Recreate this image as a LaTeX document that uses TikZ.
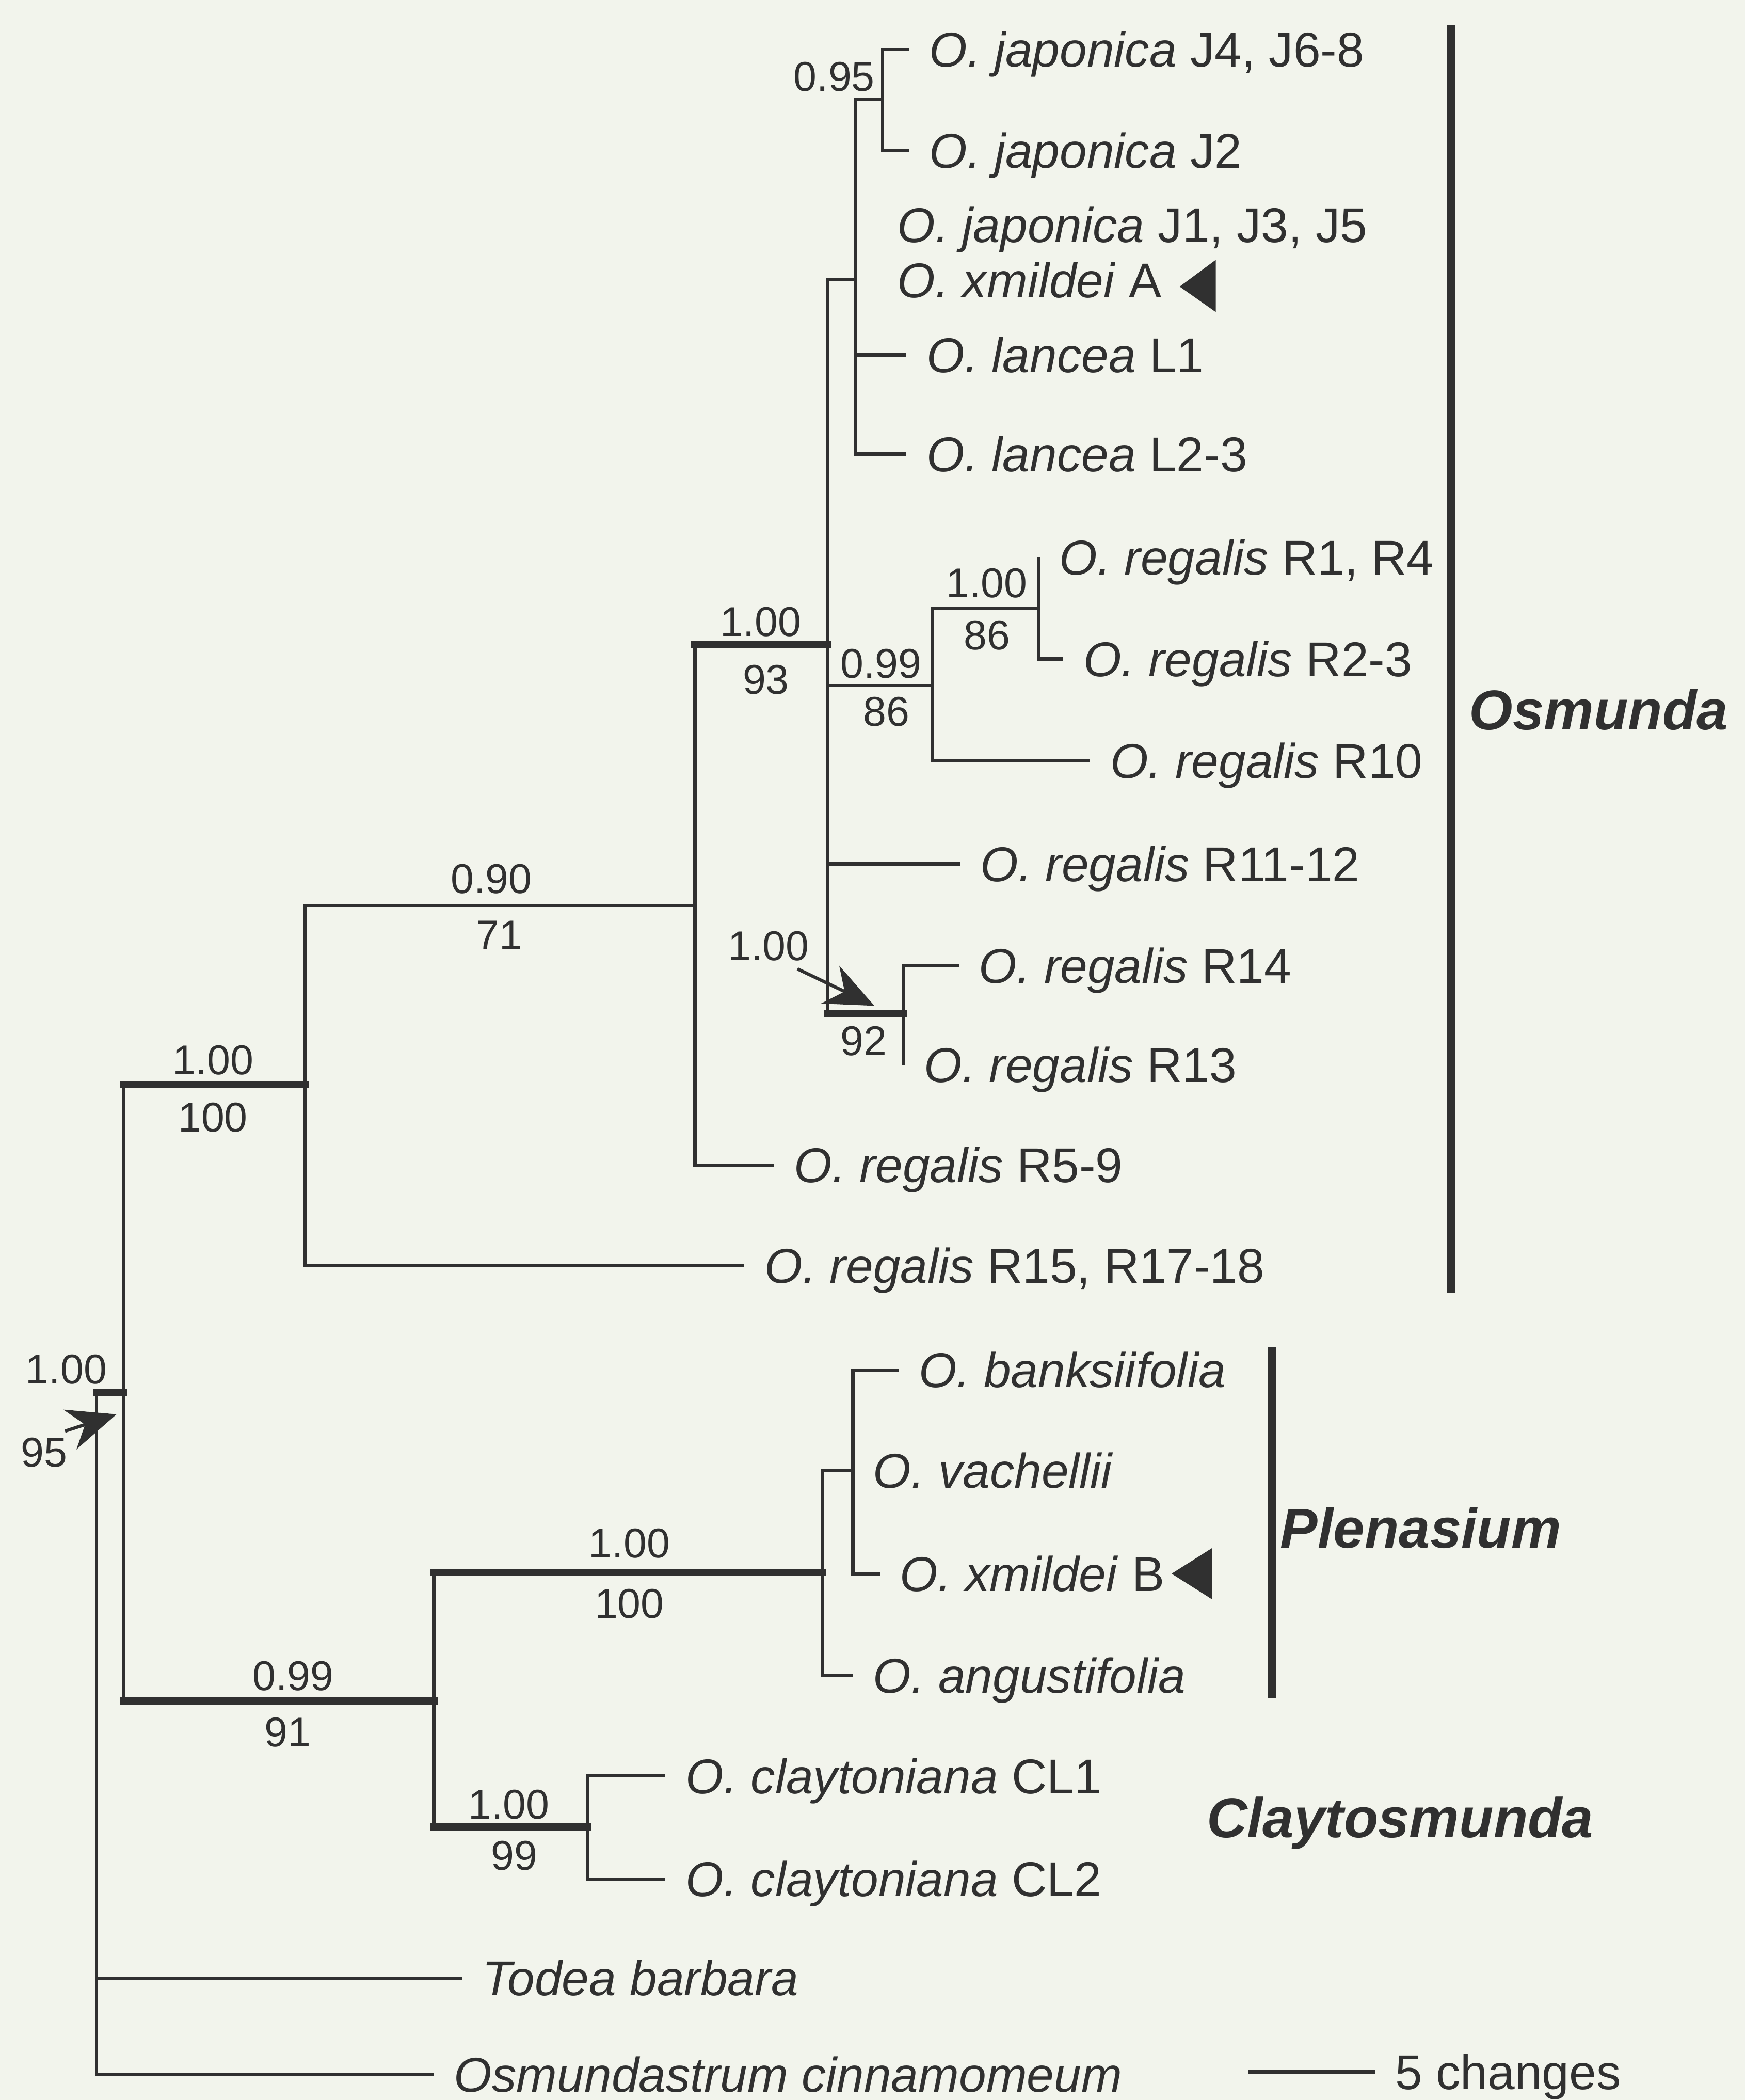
\documentclass[tikz,border=0pt]{standalone}
\usepackage{fontspec}
\setmainfont{Liberation Sans}
\usetikzlibrary{arrows.meta}
\definecolor{ink}{RGB}{48,48,48}
\definecolor{paper}{RGB}{242,244,236}
\newcommand{\taxfont}{\fontsize{27}{32}\selectfont}
\newcommand{\valfont}{\fontsize{23}{27}\selectfont}
\newcommand{\cladefont}{\fontsize{31}{36}\selectfont\bfseries\itshape}

\begin{document}
\begin{tikzpicture}[x=0.026cm,y=-0.026cm,>={Stealth[length=27pt,width=23pt]},
br/.style={draw=ink,line width=1.8pt},
strong/.style={draw=ink,line width=4pt,line cap=rect},
cbar/.style={draw=ink,line width=4.5pt},
leaf/.style={anchor=west,inner xsep=11pt,inner ysep=0pt,text height=19.3pt,text depth=0pt,font=\taxfont,text=ink},
val/.style={inner sep=0pt,text height=16.5pt,text depth=0pt,font=\valfont,text=ink},
clade/.style={anchor=west,inner sep=0pt,text height=22pt,text depth=0pt,font=\cladefont,text=ink},
ptr/.style={->,draw=ink,fill=ink,line width=1.8pt}]
\fill[paper] (0,0) rectangle (1303,1568);
\useasboundingbox (0,0) rectangle (1303,1568);

% internal nodes
\coordinate (root) at (72,1040);
\coordinate (nOsm) at (92,1040);
\coordinate (nA) at (228,810);
\coordinate (nB) at (519,676);
\coordinate (nP) at (618,481);
\coordinate (nJL) at (639,209);
\coordinate (nJ) at (659,74.5);
\coordinate (nR1) at (696,512);
\coordinate (nR2) at (776,454);
\coordinate (nR3) at (675,757);
\coordinate (nC) at (324,1270);
\coordinate (nPl) at (614,1174);
\coordinate (nPl2) at (637,1098);
\coordinate (nCl) at (439,1364);

% taxa
\node[leaf] (j4) at (679,37) {\textit{O. japonica} J4, J6-8};
\node[leaf] (j2) at (679,112.5) {\textit{O. japonica} J2};
\node[leaf] (j1) at (655,168) {\textit{O. japonica} J1, J3, J5};
\node[leaf] (xmA) at (655,209) {\textit{O. xmildei} A};
\node[leaf] (l1) at (677,265) {\textit{O. lancea} L1};
\node[leaf] (l2) at (677,339) {\textit{O. lancea} L2-3};
\node[leaf] (r1) at (776,416) {\textit{O. regalis} R1, R4};
\node[leaf] (r2) at (794,492) {\textit{O. regalis} R2-3};
\node[leaf] (r10) at (814,568) {\textit{O. regalis} R10};
\node[leaf] (r11) at (717,645) {\textit{O. regalis} R11-12};
\node[leaf] (r14) at (716,721) {\textit{O. regalis} R14};
\node[leaf] (r13) at (675,795) {\textit{O. regalis} R13};
\node[leaf] (r5) at (578,870) {\textit{O. regalis} R5-9};
\node[leaf] (r15) at (556,945) {\textit{O. regalis} R15, R17-18};
\node[leaf] (bank) at (671,1023) {\textit{O. banksiifolia}};
\node[leaf] (vach) at (637,1098) {\textit{O. vachellii}};
\node[leaf] (xmB) at (657,1175) {\textit{O. xmildei} B};
\node[leaf] (angu) at (637,1251) {\textit{O. angustifolia}};
\node[leaf] (cl1) at (497,1326) {\textit{O. claytoniana} CL1};
\node[leaf] (cl2) at (497,1403) {\textit{O. claytoniana} CL2};
\node[leaf] (todea) at (345,1477) {\textit{Todea barbara}};
\node[leaf] (cinn) at (324,1549) {\textit{Osmundastrum cinnamomeum}};

% branches
\draw[br] (root) |- (todea.west);
\draw[br] (root) |- (cinn.west);
\draw[strong] (root) -- (nOsm);
\draw[br] (nOsm) -- (nOsm |- nA);
\draw[strong] (nOsm |- nA) -- (nA);
\draw[br] (nOsm) -- (nOsm |- nC);
\draw[strong] (nOsm |- nC) -- (nC);
\draw[br] (nA) |- (nB);
\draw[br] (nA) |- (r15.west);
\draw[br] (nB) |- (r5.west);
\draw[br] (nB) -- (nB |- nP);
\draw[strong] (nB |- nP) -- (nP);
\draw[br] (nP) |- (nJL);
\draw[br] (nP) |- (nR1);
\draw[br] (nP) |- (r11.west);
\draw[br] (nP) -- (nP |- nR3);
\draw[strong] (nP |- nR3) -- (nR3);
\draw[br] (nJL) |- (nJ);
\draw[br] (nJL) |- (l1.west);
\draw[br] (nJL) |- (l2.west);
\draw[br] (nJ) |- (j4.west);
\draw[br] (nJ) |- (j2.west);
\draw[br] (nR1) |- (nR2);
\draw[br] (nR1) |- (r10.west);
\draw[br] (nR2) |- (r1.west);
\draw[br] (nR2) |- (r2.west);
\draw[br] (nR3) |- (r14.west);
\draw[br] (nR3) |- (r13.west);
\draw[br] (nC) -- (nC |- nPl);
\draw[strong] (nC |- nPl) -- (nPl);
\draw[br] (nC) -- (nC |- nCl);
\draw[strong] (nC |- nCl) -- (nCl);
\draw[br] (nPl) |- (nPl2);
\draw[br] (nPl) |- (angu.west);
\draw[br] (nPl2) |- (bank.west);
\draw[br] (nPl2) |- (xmB.west);
\draw[br] (nCl) |- (cl1.west);
\draw[br] (nCl) |- (cl2.west);

% support values
\node[val] (ppJ) at (623,57) {0.95};
\node[val] (ppP) at (568,464) {1.00};
\node[val] (bsP) at (572,507) {93};
\node[val] (ppR1) at (658,495) {0.99};
\node[val] (bsR1) at (662,531) {86};
\node[val] (ppR2) at (737,435) {1.00};
\node[val] (bsR2) at (737,474) {86};
\node[val] (ppR3) at (574,706) {1.00};
\node[val] (bsR3) at (645,777) {92};
\node[val] (ppB) at (367,656) {0.90};
\node[val] (bsB) at (373,698) {71};
\node[val] (ppA) at (159,791) {1.00};
\node[val] (bsA) at (159,834) {100};
\node[val] (ppO) at (49.5,1022) {1.00};
\node[val] (bsO) at (33,1084) {95};
\node[val] (ppC) at (219,1251) {0.99};
\node[val] (bsC) at (215,1293) {91};
\node[val] (ppPl) at (470,1152) {1.00};
\node[val] (bsPl) at (470,1197) {100};
\node[val] (ppCl) at (380,1347) {1.00};
\node[val] (bsCl) at (384,1385) {99};

% pointers
\coordinate (tipR3) at (653,751);
\coordinate (tipO) at (87,1056);
\draw[ptr] ([shift={(-9,6)}]ppR3.south east) -- (tipR3);
\draw[ptr] ([shift={(-2,-4)}]bsO.north east) -- (tipO);

% hybrid marks
\fill[ink] (881,214) -- (908,194) -- (908,233) -- cycle;
\fill[ink] (875,1175) -- (905,1156) -- (905,1194) -- cycle;

% clades
\coordinate (osmT) at (1084,19);
\coordinate (osmB) at (1084,965);
\coordinate (plnT) at (950,1006);
\coordinate (plnB) at (950,1268);
\draw[cbar] (osmT) -- (osmB);
\draw[cbar] (plnT) -- (plnB);
\node[clade] (osm) at (1097,530) {Osmunda};
\node[clade] (pln) at (956,1141) {Plenasium};
\node[clade] (clay) at (901,1357) {Claytosmunda};

% scale
\coordinate (sb0) at (932,1547);
\node[leaf] (sbl) at (1027,1547) {5 changes};
\draw[br] (sb0) -- (sbl.west);
\end{tikzpicture}
\end{document}
